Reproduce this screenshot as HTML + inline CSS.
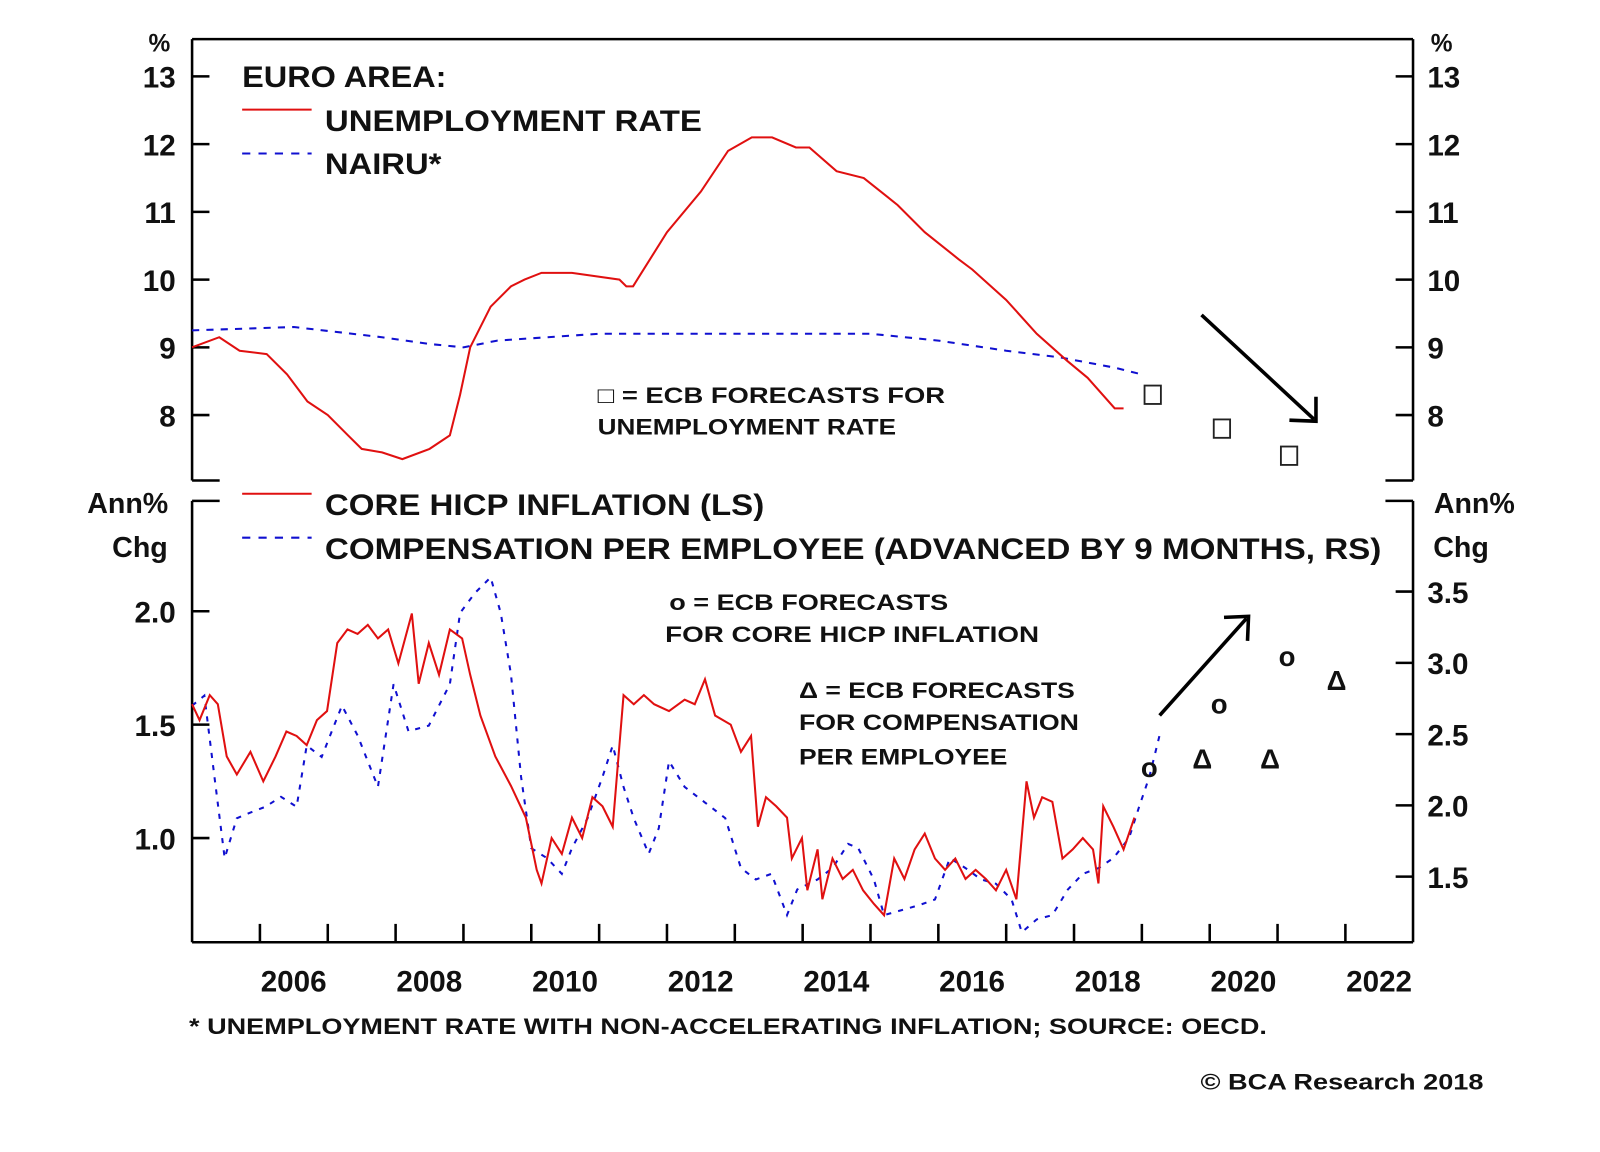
<!DOCTYPE html>
<html><head><meta charset="utf-8"><style>
html,body{margin:0;padding:0;background:#fff}
svg{display:block}
text{font-family:"Liberation Sans",Arial,sans-serif;font-weight:bold;fill:#111}
</style></head><body>
<svg id="c" width="1600" height="1152" viewBox="0 0 1566 1127" xmlns="http://www.w3.org/2000/svg"></svg>
<script>
// ---- data ----
const unempYears=[2005.0,2005.4,2005.7,2006.1,2006.4,2006.7,2007.0,2007.3,2007.5,2007.8,2008.1,2008.5,2008.8,2008.95,2009.1,2009.4,2009.7,2009.9,2010.15,2010.6,2011.3,2011.4,2011.5,2012.0,2012.5,2012.9,2013.25,2013.55,2013.9,2014.1,2014.5,2014.9,2015.4,2015.8,2016.3,2016.5,2017.0,2017.45,2017.9,2018.2,2018.6,2018.73];
const unempVals=[9.0,9.15,8.95,8.9,8.6,8.2,8.0,7.7,7.5,7.45,7.35,7.5,7.7,8.3,9.0,9.6,9.9,10.0,10.1,10.1,10.0,9.9,9.9,10.7,11.3,11.9,12.1,12.1,11.95,11.95,11.6,11.5,11.1,10.7,10.3,10.15,9.7,9.2,8.8,8.55,8.1,8.1];
const nairuYears=[2005.0,2006.5,2007.8,2008.5,2009.0,2009.5,2011.0,2013.0,2015.0,2016.0,2017.0,2017.8,2018.6,2019.0];
const nairuVals=[9.25,9.3,9.15,9.05,9.0,9.1,9.2,9.2,9.2,9.1,8.95,8.85,8.7,8.6];
const unempFcYears=[2019.16,2020.18,2021.17];
const unempFcVals=[8.3,7.8,7.4];
const coreOff=[0,.11,.26,.38,.51,.66,.86,1.05,1.23,1.39,1.54,1.69,1.84,1.99,2.14,2.29,2.44,2.59,2.74,2.89,3.04,3.24,3.34,3.49,3.64,3.80,3.98,4.10,4.25,4.47,4.70,4.92,5.08,5.15,5.30,5.45,5.60,5.75,5.90,6.05,6.20,6.36,6.51,6.66,6.81,7.03,7.26,7.41,7.56,7.71,7.94,8.09,8.24,8.34,8.46,8.61,8.77,8.84,8.99,9.07,9.22,9.29,9.44,9.59,9.74,9.89,10.05,10.20,10.35,10.50,10.65,10.80,10.95,11.10,11.25,11.40,11.55,11.70,11.85,12.00,12.15,12.30,12.41,12.53,12.68,12.83,12.98,13.13,13.28,13.36,13.43,13.58,13.73,13.89];
const coreVals=[1.59,1.52,1.63,1.59,1.36,1.28,1.38,1.25,1.36,1.47,1.45,1.41,1.52,1.56,1.86,1.92,1.9,1.94,1.88,1.92,1.77,1.99,1.68,1.86,1.72,1.92,1.88,1.72,1.54,1.36,1.23,1.09,0.86,0.8,1.0,0.93,1.09,1.0,1.18,1.14,1.05,1.63,1.59,1.63,1.59,1.56,1.61,1.59,1.70,1.54,1.5,1.38,1.45,1.05,1.18,1.14,1.09,0.91,1.0,0.77,0.95,0.73,0.91,0.82,0.86,0.77,0.71,0.66,0.91,0.82,0.95,1.02,0.91,0.86,0.91,0.82,0.86,0.82,0.77,0.86,0.73,1.25,1.09,1.18,1.16,0.91,0.95,1.0,0.95,0.8,1.14,1.05,0.95,1.09];
const cpeOff=[0,.18,.33,.48,.66,.86,1.08,1.31,1.54,1.69,1.91,2.21,2.44,2.74,2.97,3.19,3.49,3.80,3.95,4.17,4.40,4.55,4.70,4.85,5.00,5.23,5.45,5.60,5.83,6.05,6.20,6.36,6.51,6.73,6.88,7.03,7.26,7.56,7.86,8.09,8.31,8.54,8.77,8.92,9.22,9.44,9.67,9.82,10.05,10.20,10.50,10.72,10.95,11.17,11.40,11.63,11.85,12.08,12.23,12.45,12.68,12.91,13.13,13.36,13.58,13.81,13.96,14.11,14.26];
const cpeVals=[2.7,2.77,2.2,1.63,1.91,1.95,1.99,2.06,1.99,2.42,2.34,2.7,2.49,2.13,2.85,2.52,2.56,2.85,3.35,3.49,3.6,3.35,2.92,2.2,1.7,1.63,1.52,1.7,1.91,2.2,2.42,2.13,1.91,1.66,1.84,2.31,2.13,2.02,1.91,1.56,1.48,1.52,1.23,1.41,1.48,1.56,1.73,1.7,1.48,1.23,1.27,1.3,1.34,1.63,1.56,1.48,1.45,1.34,1.11,1.2,1.23,1.41,1.52,1.56,1.63,1.77,1.99,2.2,2.49];
const coreFcYears=[2019.11,2020.14,2021.14];
const coreFcVals=[1.31,1.59,1.8];
const cpeFcYears=[2019.89,2020.89,2021.87];
const cpeFcVals=[2.33,2.33,2.88];
const yearLabels=[2006,2008,2010,2012,2014,2016,2018,2020,2022];
const topTicks=[8,9,10,11,12,13];
const leftTicks=[1.0,1.5,2.0];
const rightTicks=[1.5,2.0,2.5,3.0,3.5];

// ---- axes functions ----
const L=188,R=1383;
const X=y=>L+(y-2005)*66.4;
const YT=v=>406-(v-8)*66.3;
const YL=v=>820-(v-1)*222;
const YR=v=>788-(v-2)*139.5;
const svg=document.getElementById('c');
const NS='http://www.w3.org/2000/svg';
function mk(tag,attrs,txt){const e=document.createElementNS(NS,tag);for(const k in attrs)e.setAttribute(k,attrs[k]);if(txt!==undefined)e.textContent=txt;svg.appendChild(e);return e;}
function line(x1,y1,x2,y2,name,w){const e=mk('line',{x1,y1,x2,y2,stroke:'#000','stroke-width':w||2.5});

return e;}
function text(x,y,s,size,name,anchor,len){const e=mk('text',{x,y,'font-size':size,'text-anchor':anchor||'start'},s);
if(len){e.setAttribute('textLength',len);e.setAttribute('lengthAdjust','spacingAndGlyphs');}

return e;}
function poly(xs,ys,fx,fy,color,dash,name){const pts=xs.map((x,i)=>fx(x).toFixed(1)+','+fy(ys[i]).toFixed(1)).join(' ');
const e=mk('polyline',{points:pts,fill:'none',stroke:color,'stroke-width':2,'stroke-dasharray':dash||'none'});

return e;}

// frames
line(L,38,R,38,'top-panel-top-border');
line(L,38,L,470,'top-panel-left-axis');
line(R,38,R,470,'top-panel-right-axis');
line(L,470,L+27,470,'top-panel-bottom-left-cap');
line(R-27,470,R,470,'top-panel-bottom-right-cap');
line(L,490,L,922,'bottom-panel-left-axis');
line(R,490,R,922,'bottom-panel-right-axis');
line(L,490,L+27,490,'bottom-panel-top-left-cap');
line(R-27,490,R,490,'bottom-panel-top-right-cap');
line(L,922,R,922,'x-axis');

for(let yr=2006;yr<=2022;yr++){line(X(yr),922,X(yr),904,'x-tick-'+yr);}
yearLabels.forEach(y=>text(X(y)+33,970,String(y),29,'x-label-'+y,'middle'));

topTicks.forEach(v=>{line(L,YT(v),L+17,YT(v),'left-top-tick-'+v);line(R-17,YT(v),R,YT(v),'right-top-tick-'+v);
text(172,YT(v)+11,String(v),29,'left-top-label-'+v,'end');text(1397,YT(v)+11,String(v),29,'right-top-label-'+v,'start');});
text(156,50,'%',24,'left-top-unit','middle');text(1411,50,'%',24,'right-top-unit','middle');
leftTicks.forEach(v=>{line(L,YL(v),L+17,YL(v),'left-bottom-tick-'+v);text(172,YL(v)+11,v.toFixed(1),29,'left-bottom-label-'+v,'end');});
rightTicks.forEach(v=>{line(R-17,YR(v),R,YR(v),'right-bottom-tick-'+v);text(1397,YR(v)+11,v.toFixed(1),29,'right-bottom-label-'+v,'start');});
text(125,502,'Ann%',28,'left-bottom-unit-1','middle');text(137,545,'Chg',28,'left-bottom-unit-2','middle');
text(1443,502,'Ann%',28,'right-bottom-unit-1','middle');text(1430,545,'Chg',28,'right-bottom-unit-2','middle');

// series
poly(nairuYears,nairuVals,X,YT,'#1010d0','7,7','nairu-line');
poly(unempYears,unempVals,X,YT,'#e01010',null,'unemployment-line');
poly(cpeOff.map(o=>2005+o),cpeVals,X,YR,'#1010d0','5,7','compensation-line');
poly(coreOff.map(o=>2005+o),coreVals,X,YL,'#e01010',null,'core-hicp-line');

unempFcYears.forEach((y,i)=>{const e=mk('rect',{x:X(y)-8,y:YT(unempFcVals[i])-9,width:16,height:18,fill:'none',stroke:'#222','stroke-width':1.8});

});
coreFcYears.forEach((y,i)=>text(X(y),YL(coreFcVals[i])+9,'o',27,'ecb-core-forecast','middle'));
cpeFcYears.forEach((y,i)=>text(X(y),YR(cpeFcVals[i])+10,'Δ',27,'ecb-compensation-forecast','middle'));

// legends
text(237,85,'EURO AREA:',29,'legend-title','start',200);
line(237,107,305,107,'legend-unemp-swatch',2);svg.lastChild.setAttribute('stroke','#e01010');
text(318,128,'UNEMPLOYMENT RATE',29,'legend-unemp-label','start',369);
const d1=line(237,150,305,150,'legend-nairu-swatch',2);d1.setAttribute('stroke','#1010d0');d1.setAttribute('stroke-dasharray','8,8');
text(318,170,'NAIRU*',29,'legend-nairu-label','start',114);
const s3=line(237,483,305,483,'legend-core-swatch',2);s3.setAttribute('stroke','#e01010');
text(318,504,'CORE HICP INFLATION (LS)',29,'legend-core-label','start',430);
const d2=line(237,526,305,526,'legend-cpe-swatch',2);d2.setAttribute('stroke','#1010d0');d2.setAttribute('stroke-dasharray','8,8');
text(318,547,'COMPENSATION PER EMPLOYEE (ADVANCED BY 9 MONTHS, RS)',29,'legend-cpe-label','start',1034);

// annotations
text(585,394,'□ = ECB FORECASTS FOR',22,'annotation-unemp-1','start',340);
text(585,425,'UNEMPLOYMENT RATE',22,'annotation-unemp-2','start',292);
text(655,597,'o = ECB FORECASTS',22,'annotation-core-1','start',273);
text(651,628,'FOR CORE HICP INFLATION',22,'annotation-core-2','start',366);
text(782,683,'Δ = ECB FORECASTS',22,'annotation-cpe-1','start',270);
text(782,714,'FOR COMPENSATION',22,'annotation-cpe-2','start',274);
text(782,748,'PER EMPLOYEE',22,'annotation-cpe-3','start',204);

// arrows
line(1176,308,1286,410,'arrow-down',3.5);
const a1=mk('polyline',{points:'1262,411 1288,412 1288,388',fill:'none',stroke:'#000','stroke-width':3.5});


line(1135,700,1220,605,'arrow-up',3.5);
const a2=mk('polyline',{points:'1198,604 1222,603 1221,627',fill:'none',stroke:'#000','stroke-width':3.5});



text(185,1012,'* UNEMPLOYMENT RATE WITH NON-ACCELERATING INFLATION;  SOURCE: OECD.',22,'footnote','start',1055);
text(1175,1066,'© BCA Research 2018',22,'copyright','start',277);
</script>
</body></html>
